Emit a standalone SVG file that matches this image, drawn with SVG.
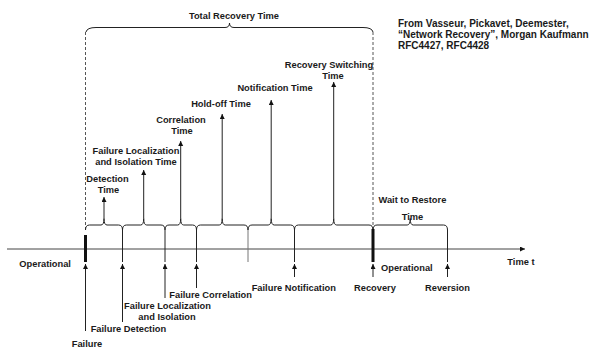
<svg xmlns="http://www.w3.org/2000/svg" width="592" height="350" viewBox="0 0 592 350">
<style>
text{font-family:"Liberation Sans",Arial,sans-serif;font-weight:bold;font-size:9.3px;fill:#1a1a1a}
.c{text-anchor:middle}
.src{font-size:10px}
.ln{fill:none;stroke:#222;stroke-width:1}
.gl{fill:none;stroke:#777;stroke-width:1}
.ax{fill:none;stroke:#444;stroke-width:1}
.th{fill:none;stroke:#111;stroke-width:3}
.da{fill:none;stroke:#555;stroke-width:1;stroke-dasharray:3,2}
.ar{fill:none;stroke:#222;stroke-width:1;marker-end:url(#ah)}
</style>
<defs>
<marker id="ah" markerUnits="userSpaceOnUse" markerWidth="6" markerHeight="6" refX="5" refY="2.5" orient="auto">
<path d="M0,0 L5,2.5 L0,5 z" fill="#111"/>
</marker>
</defs>
<rect width="592" height="350" fill="#fff"/>
<g id="connectors">
<path class="ax" d="M7,249 H525" marker-end="url(#ah)"/>
<path class="da" d="M85.5,32 V230"/>
<path class="da" d="M373,32 V230"/>
<path class="ln" d="M86,32 Q87,27.5 96,27.5 L225,27.5 Q229.5,27.5 229.5,23 Q229.5,27.5 234,27.5 L363,27.5 Q372,27.5 373,32"/>
<path class="ln" d="M85.5,230 Q85.5,225 89.5,225 L101,225 Q104,225 104,218.5 Q104,225 107,225 L118.5,225 Q122.5,225 122.5,230"/>
<path class="ln" d="M122.5,230 Q122.5,225 126.5,225 L140.7,225 Q143.7,225 143.7,218.5 Q143.7,225 146.7,225 L161,225 Q165,225 165,230"/>
<path class="ln" d="M165,230 Q165,225 169,225 L177.7,225 Q180.7,225 180.7,218.5 Q180.7,225 183.7,225 L192.5,225 Q196.5,225 196.5,230"/>
<path class="ln" d="M196.5,230 Q196.5,225 200.5,225 L219.2,225 Q222.2,225 222.2,218.5 Q222.2,225 225.2,225 L244,225 Q248,225 248,230"/>
<path class="ln" d="M248,230 Q248,225 252,225 L268.2,225 Q271.2,225 271.2,218.5 Q271.2,225 274.2,225 L290.5,225 Q294.5,225 294.5,230"/>
<path class="ln" d="M294.5,230 Q294.5,225 298.5,225 L330.7,225 Q333.7,225 333.7,218.5 Q333.7,225 336.7,225 L369,225 Q373,225 373,230"/>
<path class="ln" d="M373,230 Q373,225 377,225 L407.2,225 Q410.2,225 410.2,218.5 Q410.2,225 413.2,225 L443.5,225 Q447.5,225 447.5,230"/>
<path class="ln" d="M122.5,230 V262 M165,230 V262 M196.5,230 V262 M294.5,230 V262 M447.5,230 V262"/>
<path class="gl" d="M248,230 V262"/>
<path class="th" d="M85.5,235 V262 M373,229 V262"/>
<path class="ar" d="M104,218.5 V197"/>
<path class="ar" d="M143.7,218.5 V170"/>
<path class="ar" d="M180.7,218.5 V141"/>
<path class="ar" d="M222.2,218.5 V114"/>
<path class="ar" d="M271.2,218.5 V100"/>
<path class="ar" d="M333.7,218.5 V82"/>
<path class="ar" d="M85.5,331 V264"/>
<path class="ar" d="M122.5,322 V264"/>
<path class="ar" d="M165,298 V264"/>
<path class="ar" d="M196.5,288 V264"/>
<path class="ar" d="M294.5,277 V264"/>
<path class="ar" d="M373,277 V264"/>
<path class="ar" d="M447.5,277 V264"/>
</g>
<g id="total"><text class="c" x="234" y="18.5">Total Recovery Time</text></g>
<g id="source">
<text class="src" x="398" y="26.5">From Vasseur, Pickavet, Deemester,</text>
<text class="src" x="398" y="37.8">“Network Recovery”, Morgan Kaufmann</text>
<text class="src" x="398" y="49">RFC4427, RFC4428</text>
</g>
<g id="detection-time"><text class="c" x="107.5" y="181.5">Detection</text><text class="c" x="108.5" y="192.5">Time</text></g>
<g id="localization-time"><text class="c" x="136" y="153.5">Failure Localization</text><text class="c" x="136" y="165">and Isolation Time</text></g>
<g id="correlation-time"><text class="c" x="181" y="122.5">Correlation</text><text class="c" x="182" y="134">Time</text></g>
<g id="holdoff-time"><text class="c" x="221" y="106.5">Hold-off Time</text></g>
<g id="notification-time"><text class="c" x="275" y="90.5">Notification Time</text></g>
<g id="switching-time"><text class="c" x="329" y="67.5">Recovery Switching</text><text class="c" x="333" y="78.5">Time</text></g>
<g id="wtr"><text x="378.5" y="202.5">Wait to Restore</text><text class="c" x="412.5" y="219.5">Time</text></g>
<g id="operational-1"><text x="19.3" y="266.5">Operational</text></g>
<g id="operational-2"><text x="381" y="271">Operational</text></g>
<g id="time-t"><text x="507.3" y="265">Time t</text></g>
<g id="failure"><text class="c" x="87" y="346.5">Failure</text></g>
<g id="failure-detection"><text x="90.7" y="331.5">Failure Detection</text></g>
<g id="failure-localization"><text class="c" x="167.5" y="309">Failure Localization</text><text class="c" x="167" y="320">and Isolation</text></g>
<g id="failure-correlation"><text x="169.3" y="297.5">Failure Correlation</text></g>
<g id="failure-notification"><text x="251.7" y="291">Failure Notification</text></g>
<g id="recovery"><text x="354" y="291">Recovery</text></g>
<g id="reversion"><text x="425" y="291">Reversion</text></g>
</svg>
